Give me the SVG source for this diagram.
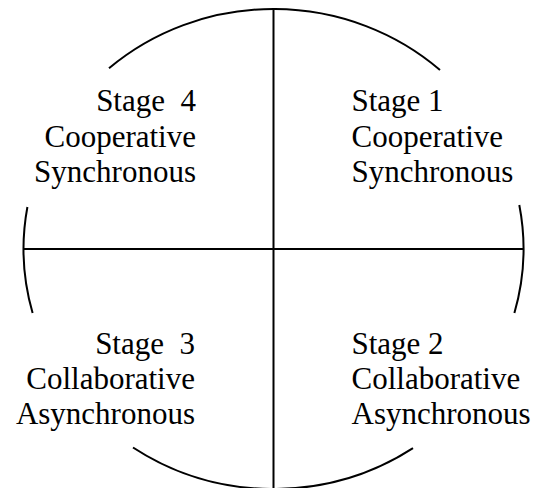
<svg xmlns="http://www.w3.org/2000/svg" width="538" height="488" viewBox="0 0 538 488">
  <style>
    .arc { fill: none; stroke: #000; stroke-width: 2; }
    .axis { stroke: #000; stroke-width: 2; }
    text { font-family: "Liberation Serif", "Times New Roman", serif; font-size: 31px; fill: #000; white-space: pre; }
    .l { text-anchor: end; }
    .r { text-anchor: start; }
  </style>
  <rect width="538" height="488" fill="#fff"/>
  <g id="circle">
    <path class="arc" d="M109,68.3 A250,240 0 0 1 440,70"/>
    <path class="arc" d="M27.4,207 A250,240 0 0 0 32.6,313"/>
    <path class="arc" d="M519.3,205 A250,240 0 0 1 514.4,313"/>
    <path class="arc" d="M133,447.5 A250,240 0 0 0 413,448.2"/>
  </g>
  <g id="connectors">
    <line class="axis" x1="273.5" y1="9" x2="273.5" y2="488"/>
    <line class="axis" x1="24" y1="249" x2="523" y2="249"/>
  </g>
  <g id="stage4">
    <text class="l" x="196" y="111">Stage  4</text>
    <text class="l" x="196" y="146.5">Cooperative</text>
    <text class="l" x="196" y="182">Synchronous</text>
  </g>
  <g id="stage1">
    <text class="r" x="351.5" y="111">Stage 1</text>
    <text class="r" x="351.5" y="146.5">Cooperative</text>
    <text class="r" x="351.5" y="182">Synchronous</text>
  </g>
  <g id="stage3">
    <text class="l" x="195" y="353.5">Stage  3</text>
    <text class="l" x="195" y="388.5">Collaborative</text>
    <text class="l" x="195" y="423.5">Asynchronous</text>
  </g>
  <g id="stage2">
    <text class="r" x="351.5" y="353.5">Stage 2</text>
    <text class="r" x="351.5" y="388.5">Collaborative</text>
    <text class="r" x="351.5" y="423.5">Asynchronous</text>
  </g>
</svg>
